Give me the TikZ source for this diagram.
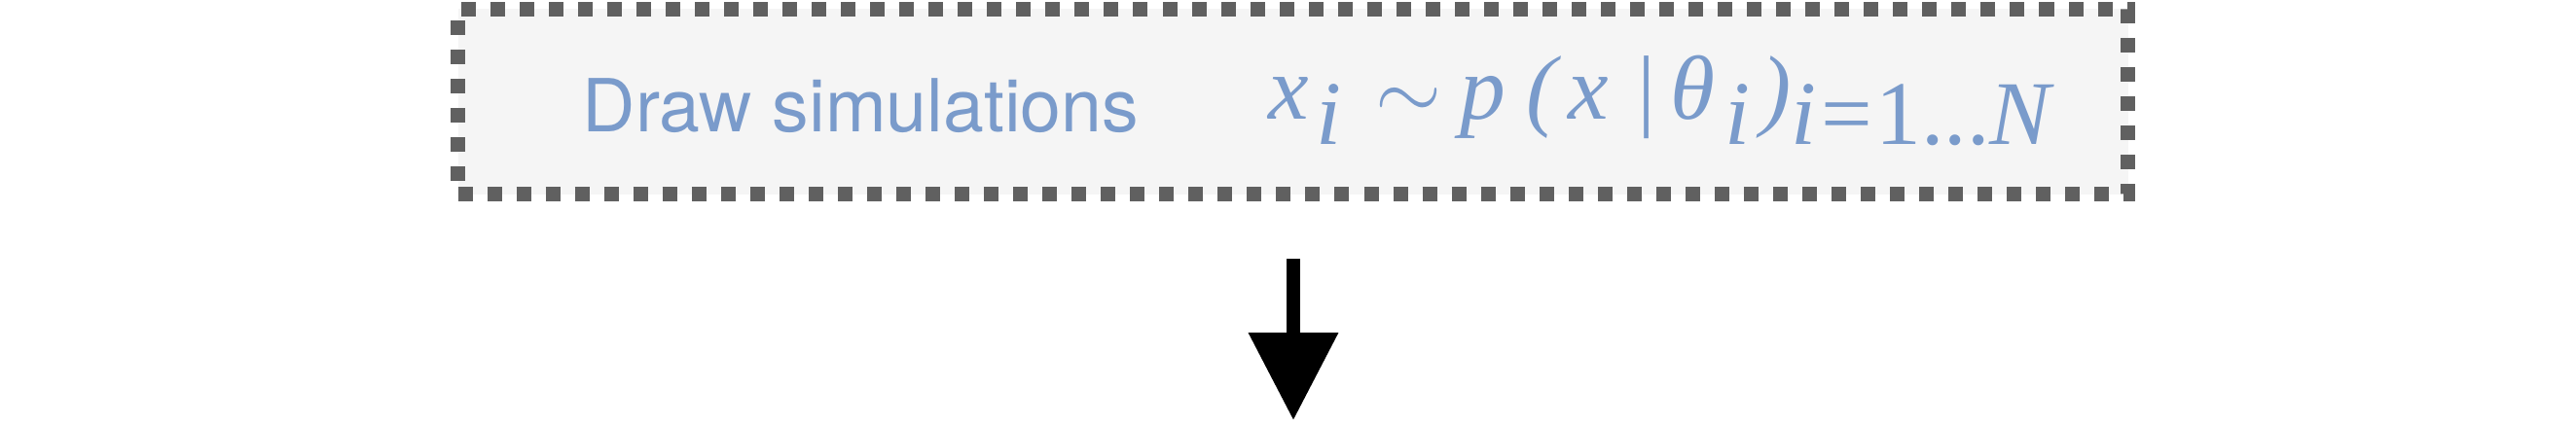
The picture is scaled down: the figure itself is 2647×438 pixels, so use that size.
\documentclass[tikz,border=0pt]{standalone}
\usepackage{fontspec}
\setmainfont{TeX Gyre Heros}
\newfontfamily\formfont{Liberation Serif}
\usetikzlibrary{arrows.meta}
\definecolor{simblue}{RGB}{122,155,203}
\definecolor{dashgray}{RGB}{96,96,96}
\definecolor{boxfill}{RGB}{245,245,245}
\newcommand{\fsub}[1]{\raisebox{-7.4pt}{#1}}
\tikzset{
  simbox/.style={draw=dashgray, fill=boxfill, line width=4.27pt, dash pattern=on 4.27pt off 4.27pt,
    minimum width=17.15cm, minimum height=1.9cm, inner sep=0pt},
  simtext/.style={text=simblue, inner sep=0pt, anchor=base west},
  flowarrow/.style={line width=3.98pt, -{Triangle[width=25.3pt,length=25.6pt]}},
}
\begin{document}
\begin{tikzpicture}[x=0.01cm,y=-0.01cm]
\useasboundingbox (0,0) rectangle (2647,438);
\node [simbox] (sims) at (1328.5,104.5) {};
\node [simtext, font=\fontsize{21.4pt}{25pt}\selectfont] (drawlabel) at (598,135) {Draw simulations};
\node [simtext, font=\fontsize{26.6pt}{30pt}\selectfont\formfont\itshape] (simformula) at (1303,122)
  {x\hspace{2pt}\fsub{i}\hspace{10pt}$\sim$\hspace{5.5pt}p\hspace{6pt}(\hspace{3.4pt}x\hspace{6.8pt}|\hspace{3.8pt}θ\hspace{3pt}\fsub{i}\hspace{3pt})\fsub{i\hspace{1.4pt}\upshape=\hspace{1pt}1...\itshape N}};
\coordinate (flowtop) at (1329,266);
\coordinate (flowtip) at (1329,432);
\draw [flowarrow] (flowtop) -- (flowtip);
\end{tikzpicture}
\end{document}
